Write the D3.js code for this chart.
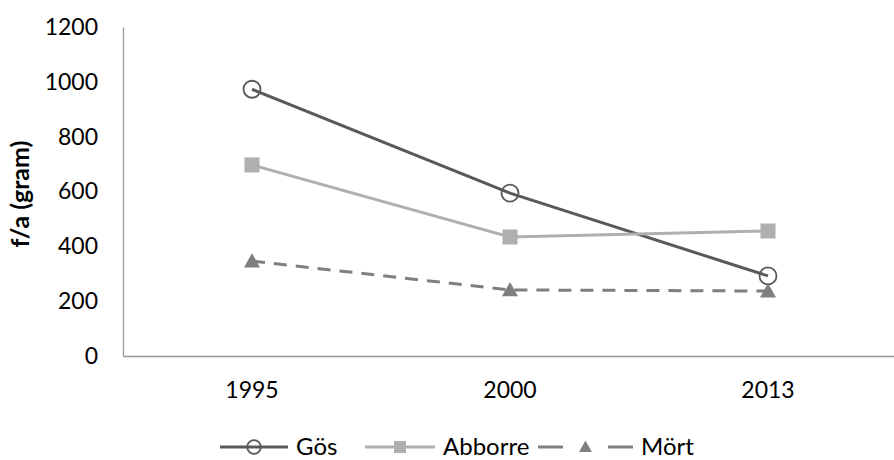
<!DOCTYPE html>
<html>
<head>
<meta charset="utf-8">
<script src="https://cdn.jsdelivr.net/npm/d3@7"></script>
<style>
  body { margin: 0; background: #fff; }
  svg { font-family: Lato, "Open Sans", sans-serif; }
</style>
</head>
<body>
<svg width="894" height="460"></svg>
<script>
// chart data
const years = ['1995', '2000', '2013'];
const gos = [973, 594, 292];
const abborre = [697, 434, 456];
const mort = [346, 241, 237];
const yTicks = [0, 200, 400, 600, 800, 1000, 1200];

const series = [
  { name: 'Gös', values: gos, color: '#595959', marker: 'circle', dash: null, legendDash: null },
  { name: 'Abborre', values: abborre, color: '#afafaf', marker: 'square', dash: null, legendDash: null },
  { name: 'Mört', values: mort, color: '#7f7f7f', marker: 'triangle', dash: '13,9', legendDash: '25,45' },
];

const svg = d3.select('svg');
const plotLeft = 123, plotRight = 897, plotTop = 27, plotBottom = 356;
const fontSize = 23;

const x = d3.scaleBand().domain(years).range([plotLeft, plotRight]);
const y = d3.scaleLinear().domain([0, 1200]).range([plotBottom, plotTop]);

// y axis
const yAxis = d3.axisLeft(y).tickValues(yTicks).tickFormat(d3.format('d')).tickSize(0).tickPadding(25);
const yg = svg.append('g').attr('transform', `translate(${plotLeft},0)`).call(yAxis);
yg.select('.domain').attr('stroke', '#999').attr('stroke-width', 1.3);
yg.selectAll('text').attr('font-size', fontSize).attr('fill', '#000').attr('font-family', 'Lato, sans-serif');

// x axis
const xAxis = d3.axisBottom(x).tickSize(0).tickPadding(26);
const xg = svg.append('g').attr('transform', `translate(0,${plotBottom})`).call(xAxis);
xg.select('.domain').attr('stroke', '#999').attr('stroke-width', 1.3);
xg.selectAll('text').attr('font-size', fontSize).attr('fill', '#000').attr('font-family', 'Lato, sans-serif');

// y label
svg.append('text')
  .attr('transform', 'translate(29,194) rotate(-90)')
  .attr('text-anchor', 'middle')
  .attr('font-size', 25)
  .attr('font-weight', 'bold')
  .text('f/a (gram)');

const cx = (d, i) => x(years[i]) + x.bandwidth() / 2;

function drawMarker(g, s, px, py, scale) {
  if (s.marker === 'circle') {
    g.append('circle').attr('cx', px).attr('cy', py).attr('r', 8.5 * scale)
      .attr('fill', 'none').attr('stroke', s.color).attr('stroke-width', 1.8);
  } else if (s.marker === 'square') {
    const h = 7.5 * scale;
    g.append('rect').attr('x', px - h).attr('y', py - h).attr('width', 2 * h).attr('height', 2 * h)
      .attr('fill', s.color);
  } else {
    const h = 8 * scale;
    g.append('path')
      .attr('d', `M${px},${py - h}L${px + h},${py + h * 0.8}L${px - h},${py + h * 0.8}Z`)
      .attr('fill', s.color);
  }
}

const line = d3.line().x(cx).y(d => y(d));

series.forEach(s => {
  const g = svg.append('g');
  g.append('path')
    .datum(s.values)
    .attr('d', line)
    .attr('fill', 'none')
    .attr('stroke', s.color)
    .attr('stroke-width', 3)
    .attr('stroke-dasharray', s.dash);
  s.values.forEach((v, i) => drawMarker(g, s, cx(v, i), y(v), 1));
});

// legend
const legendY = 447;
const legendPos = [
  { x1: 220, x2: 288, tx: 296 },
  { x1: 365, x2: 435, tx: 443 },
  { x1: 538, x2: 633, tx: 641 },
];
series.forEach((s, i) => {
  const p = legendPos[i];
  const g = svg.append('g');
  g.append('line').attr('x1', p.x1).attr('x2', p.x2).attr('y1', legendY).attr('y2', legendY)
    .attr('stroke', s.color).attr('stroke-width', 3).attr('stroke-dasharray', s.legendDash);
  drawMarker(g, s, (p.x1 + p.x2) / 2, legendY, 0.8);
  g.append('text').attr('x', p.tx).attr('y', 455)
    .attr('font-size', 24).text(s.name);
});
</script>
</body>
</html>
